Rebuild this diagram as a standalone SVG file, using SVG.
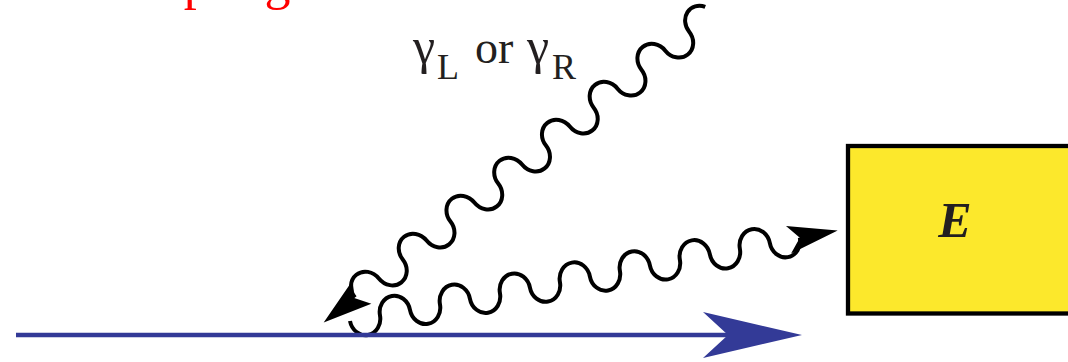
<svg xmlns="http://www.w3.org/2000/svg" width="1068" height="362" viewBox="0 0 1068 362">
<style>
.wave{fill:none;stroke:#000;stroke-width:4;stroke-linecap:butt}
.head{fill:#000;stroke:none}
.lbl{font-family:"Liberation Serif","Times New Roman",serif;fill:#231f20}
</style>
<rect width="1068" height="362" fill="#fff"/>
<text class="lbl" x="97" y="-1" font-size="52" style="fill:#ff0000">Coupling</text>
<g id="connectors">
  <g id="photon-in" transform="translate(355,297.5) rotate(-38.5)">
    <path class="wave" d="M0,0 a15.25,17 0 0 1 30.5,0 a15.25,17 0 0 0 30.5,0 a15.25,17 0 0 1 30.5,0 a15.25,17 0 0 0 30.5,0 a15.25,17 0 0 1 30.5,0 a15.25,17 0 0 0 30.5,0 a15.25,17 0 0 1 30.5,0 a15.25,17 0 0 0 30.5,0 a15.25,17 0 0 1 30.5,0 a15.25,17 0 0 0 30.5,0 a15.25,17 0 0 1 30.5,0 a15.25,17 0 0 0 30.5,0 a15.25,17 0 0 1 30.5,0 a15.25,17 0 0 0 30.5,0 a15.25,17 0 0 1 28,-9.4"/>
    <polygon class="head" points="-40,0 9,-15 -1,0 9,15"/>
  </g>
  <g id="photon-out" transform="translate(350,321) rotate(-10.5)">
    <path class="wave" d="M0,0 a15.25,17 0 0 0 30.5,0 a15.25,17 0 0 1 30.5,0 a15.25,17 0 0 0 30.5,0 a15.25,17 0 0 1 30.5,0 a15.25,17 0 0 0 30.5,0 a15.25,17 0 0 1 30.5,0 a15.25,17 0 0 0 30.5,0 a15.25,17 0 0 1 30.5,0 a15.25,17 0 0 0 30.5,0 a15.25,17 0 0 1 30.5,0 a15.25,17 0 0 0 30.5,0 a15.25,17 0 0 1 30.5,0 a15.25,17 0 0 0 30.5,0 a15.25,17 0 0 1 30.5,0 a15.25,17 0 0 0 30.5,0"/>
    <polygon class="head" points="496,0 446,-14 457.5,0 446,14"/>
  </g>
  <g id="electron-line">
    <line x1="16" y1="335" x2="730" y2="335" stroke="#333a97" stroke-width="4.3"/>
    <polygon points="802,335 703,312 728,335 703,358" fill="#333a97"/>
  </g>
</g>
<g id="label-photon">
  <text class="lbl"><tspan x="413" y="63" font-size="50">γ</tspan><tspan x="437" y="79" font-size="36">L</tspan><tspan x="475" y="63" font-size="46">or</tspan><tspan x="527" y="63" font-size="50">γ</tspan><tspan x="552" y="79" font-size="36">R</tspan></text>
</g>
<g id="node-E">
  <rect x="848" y="146" width="240" height="167.5" fill="#fce82c" stroke="#000" stroke-width="4.3"/>
  <text class="lbl" x="955" y="237" font-size="50" font-weight="bold" font-style="italic" text-anchor="middle">E</text>
</g>
</svg>
